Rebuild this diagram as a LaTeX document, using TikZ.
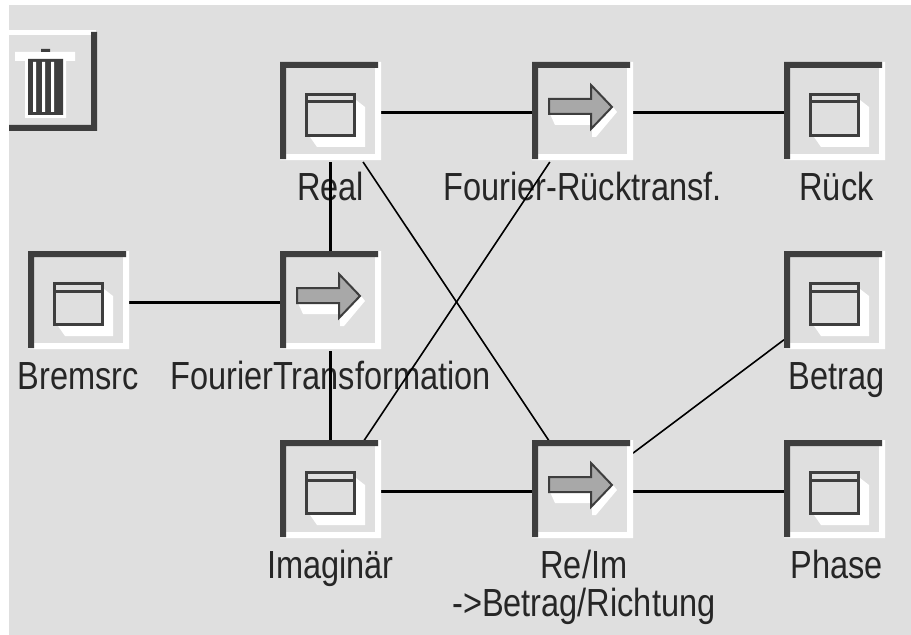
\documentclass[tikz,border=0pt]{standalone}
\usepackage{fontspec}
\setmainfont[FakeStretch=.83]{Liberation Sans}
\usetikzlibrary{positioning}
\definecolor{panelgray}{HTML}{DFDFDF}
\definecolor{framedark}{HTML}{3E3E3E}
\definecolor{arrowgray}{HTML}{A8A8A8}
\tikzset{
    blockbox/.style={minimum width=75.75pt,minimum height=73.5pt,inner sep=0pt,outer sep=0pt},
    blockframe/.pic={
        \fill[white] (95,0) rectangle (101,98) (0,92) rectangle (101,98);
        \fill[framedark] (0,0) rectangle (98,6) (0,0) rectangle (6,97);
    },
    winicon/.pic={
        \begin{scope}[shift={(-50.5,-51)}]
            \pic {blockframe};
            \fill[white] (76,38) -- (85,45) -- (85,85) -- (37,85) -- (30,75) -- cycle;
            \draw[framedark,fill=panelgray,line width=2.25pt] (26.5,32.5) rectangle (74.5,73.5);
            \draw[framedark,line width=2.25pt] (26,40) -- (75,40);
        \end{scope}
    },
    arrowicon/.pic={
        \begin{scope}[shift={(-50.5,-51)}]
            \pic {blockframe};
            \fill[white] (18,52) -- (23,63) -- (60,63) -- (60,75) -- (64,75) -- (85,50) -- (81,45) -- cycle;
            \draw[framedark,fill=arrowgray,line width=1.5pt] (17,37) -- (59,37) -- (59,23) -- (80,45) -- (59,67) -- (59,52) -- (17,52) -- cycle;
        \end{scope}
    },
    blocklabel/.style={font=\fontsize{29.4}{28.5}\selectfont,text=black!85,align=center,inner sep=0pt,
        execute at begin node={\rule{0pt}{21pt}}},
    thickwire/.style={line width=2.25pt,black},
    thinwire/.style={line width=1.2pt,black}
}
\begin{document}
\begin{tikzpicture}[x=.75pt,y=-.75pt,line join=miter]
    \useasboundingbox (0,0) rectangle (911,635);
    \fill[panelgray] (9,5) rectangle (911,635);
    % papierkorb
    \fill[white] (9,30) rectangle (96,35);
    \fill[framedark] (91,32) rectangle (97,130) (9,125) rectangle (97,131);
    \fill[white] (15,52) rectangle (75,61) (25,59) rectangle (66,118);
    \fill[framedark] (41,49) rectangle (50,52) (28,59) rectangle (63,115);
    \fill[white] (33,62) rectangle (36,112) (42,62) rectangle (45,112) (51,62) rectangle (54,112);
    % bloecke
    \node[blockbox] (real) at (330.5,113) {};
    \node[blockbox] (ruecktrafo) at (582.5,113) {};
    \node[blockbox] (rueck) at (834.5,113) {};
    \node[blockbox] (bremsrc) at (78.5,302) {};
    \node[blockbox] (trafo) at (330.5,302) {};
    \node[blockbox] (betrag) at (834.5,302) {};
    \node[blockbox] (imag) at (330.5,491) {};
    \node[blockbox] (reim) at (582.5,491) {};
    \node[blockbox] (phase) at (834.5,491) {};
    % beschriftung
    \node[blocklabel,below=7.5pt of real] (reallabel) {Real};
    \node[blocklabel,below=7.5pt of ruecktrafo] (ruecktrafolabel) {Fourier-Rücktransf.};
    \node[blocklabel,below=7.5pt of rueck,xshift=1.5pt] (ruecklabel) {Rück};
    \node[blocklabel,below=7.5pt of bremsrc] (bremsrclabel) {Bremsrc};
    \node[blocklabel,below=7.5pt of trafo] (trafolabel) {FourierTransformation};
    \node[blocklabel,below=7.5pt of betrag,xshift=1.5pt] (betraglabel) {Betrag};
    \node[blocklabel,below=7.5pt of imag] (imaglabel) {Imaginär};
    \node[blocklabel,below=7.5pt of reim,xshift=1pt] (reimlabel) {Re/Im\\->Betrag/Richtung};
    \node[blocklabel,below=7.5pt of phase,xshift=1.5pt] (phaselabel) {Phase};
    % verbindungen
    \draw[thickwire] (real) -- (ruecktrafo);
    \draw[thickwire] (ruecktrafo) -- (rueck);
    \draw[thickwire] (bremsrc) -- (trafo);
    \draw[thickwire] (real) -- (trafo);
    \draw[thickwire] (trafo) -- (imag);
    \draw[thickwire] (imag) -- (reim);
    \draw[thickwire] (reim) -- (phase);
    \draw[thinwire] (real) -- (reim);
    \draw[thinwire] (imag) -- (ruecktrafo);
    \draw[thinwire] (reim) -- (betrag);
    \foreach \blockname in {real,rueck,bremsrc,betrag,imag,phase}
        \pic at (\blockname) {winicon};
    \foreach \blockname in {ruecktrafo,trafo,reim}
        \pic at (\blockname) {arrowicon};
\end{tikzpicture}
\end{document}
